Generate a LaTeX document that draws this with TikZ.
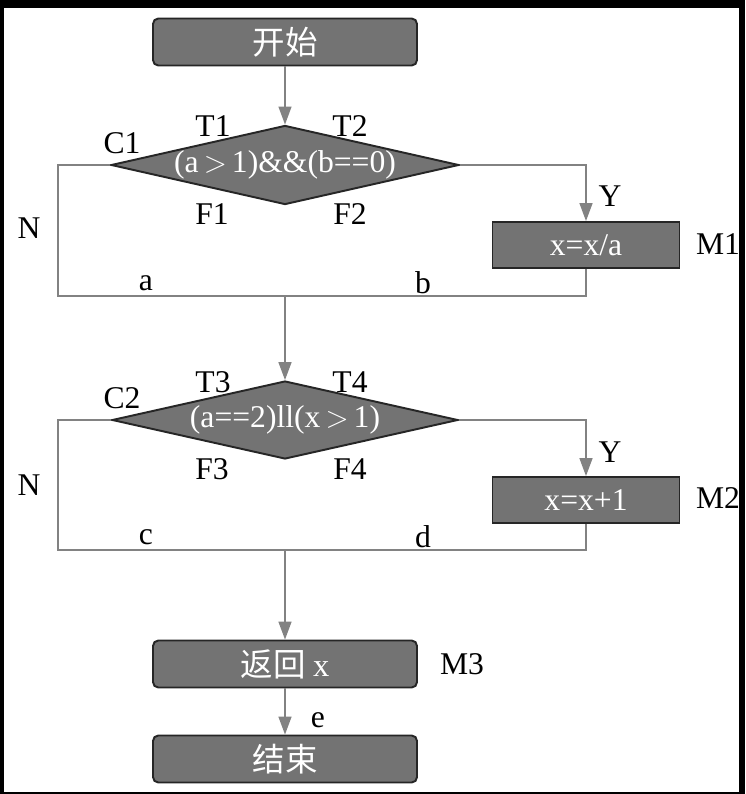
\documentclass[tikz,border=0pt]{standalone}
\usepackage{fontspec}
\setmainfont{Liberation Serif}
\newfontfamily\cjk{Noto Sans CJK SC}
\usetikzlibrary{shapes.geometric}
\usetikzlibrary{arrows.meta}
\usetikzlibrary{positioning}

\definecolor{boxgray}{HTML}{737373}
\definecolor{linegray}{HTML}{828282}
\newcommand{\labfont}{\fontsize{18}{21}\selectfont}

\tikzset{
    term/.style={rectangle, rounded corners=3pt, draw=black!85, line width=1.1pt,
        fill=boxgray, text=white, minimum width=5.28cm, minimum height=0.94cm,
        inner sep=0pt, font=\cjk\fontsize{18.5}{21}\selectfont},
    proc/.style={rectangle, draw=black!85, line width=1.1pt, fill=boxgray,
        text=white, minimum width=3.74cm, minimum height=0.92cm, inner sep=0pt,
        font=\labfont},
    cond/.style={diamond, draw=black!85, line width=1.1pt, fill=boxgray,
        text=white, aspect=4.4, minimum width=6.92cm, minimum height=1.56cm,
        inner sep=0pt, font=\labfont},
    flow/.style={draw=linegray, line width=0.85pt},
    arr/.style={flow, -{Triangle[length=0.36cm, width=0.26cm]}, color=linegray},
    tag/.style={font=\labfont, inner sep=0pt},
}

\begin{document}
\begin{tikzpicture}[x=0.02cm, y=-0.02cm]
    % frame
    \fill[black] (0,0) rectangle (745,794);
    \fill[white] (4,8) rectangle (739,792);

    \node[term] (start) at (285,42) {开始};
    \node[cond] (c1) at (285,165) {(a$\,>\,$1)\&\&(b==0)};
    \node[proc] (m1) at (586,245) {x=x/a};
    \node[cond] (c2) at (285,420) {(a==2)ll(x$\,>\,$1)};
    \node[proc] (m2) at (586,500) {x=x+1};
    \node[term] (ret) at (285,664) {返回 {\rmfamily x}};
    \node[term] (stop) at (285,759) {结束};

    \coordinate (j1) at (285,296);
    \coordinate (n1) at (58,296);
    \coordinate (j2) at (285,550);
    \coordinate (n2) at (58,550);

    % labels
    \foreach \nm/\px/\py/\txt in {lc1/122/143/C1, lt1/213/126/T1, lt2/350/126/T2,
        lf1/212/214/F1, lf2/350/214/F2, ln1/29/228/N, ly1/610/196/Y,
        lm1/718/244/M1, la/146/283/a, lb/423/283/b,
        lc2/122/398/C2, lt3/213/382/T3, lt4/350/382/T4,
        lf3/212/469/F3, lf4/350/469/F4, ln2/29/485/N, ly2/610/452/Y,
        lm2/718/498/M2, lc/146/537/c, ld/423/537/d,
        lm3/462/664/M3, le/318/720/e} {
        \node[tag] (\nm) at (\px,\py) {\txt};
    }

    \draw[arr] (start) -- (c1);
    \draw[arr] (c1.east) -| (m1.north);
    \draw[flow] (c1.west) -| (n1) -- (j1);
    \draw[flow] (m1.south) |- (j1);
    \draw[arr] (j1) -- (c2.north);
    \draw[arr] (c2.east) -| (m2.north);
    \draw[flow] (c2.west) -| (n2) -- (j2);
    \draw[flow] (m2.south) |- (j2);
    \draw[arr] (j2) -- (ret);
    \draw[arr] (ret) -- (stop);
\end{tikzpicture}
\end{document}
